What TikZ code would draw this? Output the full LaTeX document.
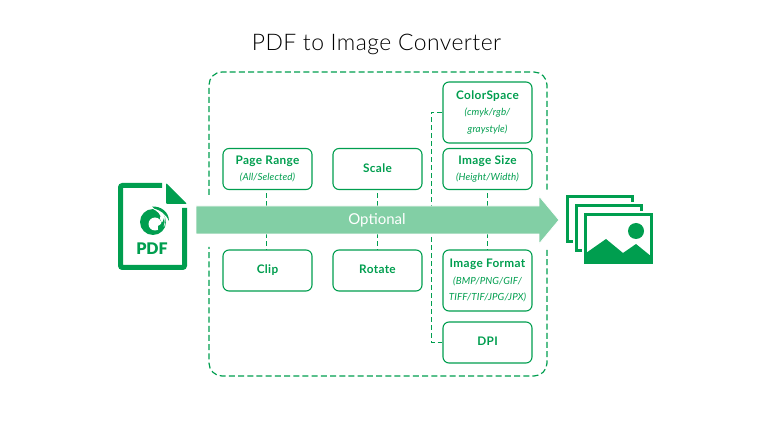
\documentclass[tikz,border=0pt]{standalone}
\usepackage{fontspec}
\setmainfont{Lato}
\newfontfamily\titlefont[LetterSpace=2]{Lato Light}
\newfontfamily\boldfont[LetterSpace=3]{Lato Bold}
\newfontfamily\notefont[LetterSpace=1]{Lato Italic}
\definecolor{foxit-green}{RGB}{0,158,79}
\definecolor{mid-green}{RGB}{130,207,165}
\usetikzlibrary{calc}
\newcommand{\boxtitle}[1]{{\boldfont\fontsize{11.8}{16.5}\selectfont\vphantom{Ag}#1}}
\newcommand{\boxnote}[1]{{\notefont\fontsize{9.8}{16.5}\selectfont #1}}
\tikzset{
	optbox/.style={draw=foxit-green,line width=1.1pt,rounded corners=6pt,fill=white,
		text=foxit-green,minimum width=89pt,inner sep=0pt,align=center,
		font=\fontsize{10}{16.5}\selectfont},
	linkline/.style={foxit-green,line width=1pt,dash pattern=on 5pt off 3pt},
	frameline/.style={foxit-green,line width=1.2pt,dash pattern=on 6pt off 3.2pt,rounded corners=13pt},
	iconframe/.style={draw=foxit-green,line width=3pt,fill=white,preaction={draw=white,line width=7pt}}
}
\begin{document}
\begin{tikzpicture}[x=1pt,y=-1pt]
	\useasboundingbox (0,0) rectangle (769,446);

	\node (title) at (376.5,44) {\titlefont\fontsize{22.9}{24}\selectfont PDF to Image Converter};

	% dashed frame, broken where the arrow passes
	\coordinate (frameNW) at (209,195);
	\coordinate (frameNE) at (547,190);
	\coordinate (frameSE) at (547,250);
	\coordinate (frameSW) at (209,247);
	\draw[frameline] (frameNW) -- (209,72) -- (547,72) -- (frameNE);
	\draw[frameline] (frameSE) -- (547,376) -- (209,376) -- (frameSW);

	% option boxes
	\path
		(267.5,169)  node[optbox,minimum height=41pt] (range) {\boxtitle{Page Range}\\\boxnote{(All/Selected)}}
		(377.5,169)  node[optbox,minimum height=41pt] (scale) {\boxtitle{Scale}}
		(267.5,270.5) node[optbox,minimum height=41pt] (clip) {\boxtitle{Clip}}
		(377.5,270.5) node[optbox,minimum height=41pt] (rotate) {\boxtitle{Rotate}}
		(487.5,112.5) node[optbox,minimum height=61pt] (color) {\boxtitle{ColorSpace}\\\boxnote{(cmyk/rgb/}\\\boxnote{graystyle)}}
		(487.5,169)  node[optbox,minimum height=41pt] (size) {\boxtitle{Image Size}\\\boxnote{(Height/Width)}}
		(487.5,280.5) node[optbox,minimum height=61pt] (format) {\boxtitle{Image Format}\\\boxnote{(BMP/PNG/GIF/}\\\boxnote{TIFF/TIF/JPG/JPX)}}
		(487.5,342.5) node[optbox,minimum height=41pt] (dpi) {\boxtitle{DPI}};

	% links between the boxes
	\draw[linkline] (range.south) ++(-1,3) -- ($(clip.north)+(-1,0)$);
	\draw[linkline] (scale.south) ++(0,3) -- (rotate.north);
	\draw[linkline] (size.south) ++(0,3) -- (format.north);
	\draw[linkline] (color.west) -- (431,114 |- color.west) -- (431,344 |- dpi.west) -- (dpi.west);

	% arrow
	\fill[mid-green,draw=white,line width=.8pt]
		(196,206) -- (539,206) -- (539,196) -- (559,220) -- (539,244) -- (539,234) -- (196,234) -- cycle;
	\node[text=white] (optional) at (377,220) {\fontsize{15}{18}\selectfont Optional};

	% pdf icon
	\draw[foxit-green,line width=5pt,rounded corners=2pt,line cap=butt]
		(162,185.5) -- (120.5,185.5) -- (120.5,267.5) -- (184.5,267.5) -- (184.5,208);
	\fill[foxit-green,rounded corners=1pt] (166,183) -- (187,204) -- (166,204) -- cycle;
	% logo swirl
	\fill[foxit-green] (153,222) circle (13);
	\fill[white] (155,224) circle (6.5);
	\fill[white] (151,208) .. controls (158,211) and (162,215) .. (160,219)
		-- (164,227) .. controls (167,220) and (165,212) .. (156,207) -- cycle;
	\fill[foxit-green] (152,206.5) .. controls (161,206) and (169,212) .. (169,221)
		.. controls (166,214) and (160,210) .. (154,208.5) -- cycle;
	\fill[foxit-green] (158,226) .. controls (161,225) and (163,222) .. (164,218)
		.. controls (166,224) and (163,229) .. (158,230) -- cycle;
	\node[text=foxit-green,inner sep=0pt] (pdf) at (152,249) {\fontspec{Lato Black}\fontsize{16}{18}\selectfont PDF};

	% image icon
	\draw[iconframe] (567.5,196.5) rectangle (632.5,241.5);
	\draw[iconframe] (576.5,205.5) rectangle (641.5,250.5);
	\draw[iconframe] (585.5,214.5) rectangle (651.5,262.5);
	\fill[foxit-green] (586,253) -- (606,239) -- (623,253) -- (636,244) -- (652,257) -- (652,264) -- (586,264) -- cycle;
	\fill[foxit-green] (636,231) circle (8);
\end{tikzpicture}
\end{document}
